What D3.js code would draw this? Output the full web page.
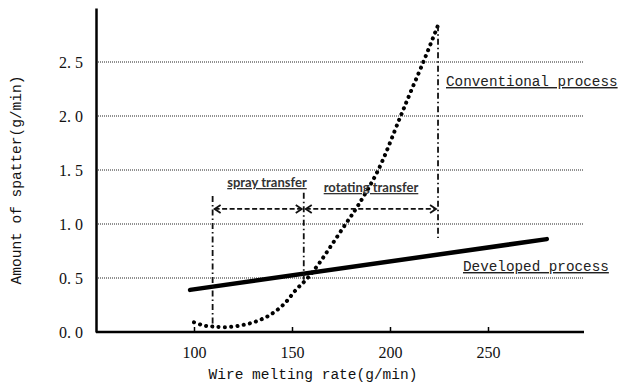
<!DOCTYPE html>
<html>
<head>
<meta charset="utf-8">
<script src="https://cdn.jsdelivr.net/npm/d3@7"></script>
<style>
  body { margin: 0; background: #fff; }
  svg { display: block; }
</style>
</head>
<body>
<svg></svg>
<script>
// values
const xTicks = [100, 150, 200, 250];
const yTicks = [0, 0.5, 1.0, 1.5, 2.0, 2.5];

const developedX = [98, 280];
const developedY = [0.39, 0.86];

const conventionalX = [100, 105, 110, 117, 125, 132, 139, 146, 152, 158, 164, 170, 177, 184, 194, 205, 210, 217, 224.5];
const conventionalY = [0.09, 0.06, 0.05, 0.045, 0.065, 0.1, 0.16, 0.26, 0.39, 0.5, 0.64, 0.8, 0.99, 1.18, 1.5, 1.98, 2.2, 2.5, 2.84];

// transfer boundaries: x, top, bottom
const boundX = [109.5, 156, 224.5];
const boundTop = [1.26, 1.29, 2.84];
const boundBottom = [0.04, 0.44, 0.87];

const arrowY = 1.14;
const regionNames = ['spray transfer', 'rotating transfer'];

const W = 619, H = 383;
const mono = "'Liberation Mono', 'DejaVu Sans Mono', monospace";
const serif = "'Liberation Serif', 'DejaVu Serif', serif";

const svg = d3.select('svg')
    .attr('width', W)
    .attr('height', H);

//--------------SCALES---------------------------------------
const x = d3.scaleLinear().domain([50, 300]).range([96, 586]);
const y = d3.scaleLinear().domain([0, 3]).range([332, 8]);

//--------------GRID----------------------------------------
svg.append('g')
  .selectAll('line')
  .data(yTicks.filter(d => d > 0))
  .join('line')
    .attr('x1', x(50))
    .attr('x2', 584)
    .attr('y1', d => y(d))
    .attr('y2', d => y(d))
    .attr('stroke', '#222')
    .attr('stroke-width', 1)
    .attr('stroke-dasharray', '1,1');

//--------------AXES----------------------------------------
const xAxis = d3.axisBottom(x)
    .tickValues(xTicks)
    .tickSize(-5)
    .tickPadding(15);

const axisX = svg.append('g')
    .attr('transform', 'translate(0,' + y(0) + ')')
    .call(xAxis);
axisX.select('.domain')
    .attr('d', 'M' + x(50) + ',0H584')
    .attr('stroke-width', 2.5);
axisX.selectAll('.tick line').attr('stroke-width', 1.5);
axisX.selectAll('.tick text')
    .attr('font-family', serif)
    .attr('font-size', 16)
    .attr('fill', '#111');

const yAxis = d3.axisLeft(y)
    .tickValues(yTicks)
    .tickSize(0)
    .tickPadding(13)
    .tickFormat(d => d3.format('.1f')(d).replace('.', '. '));

const axisY = svg.append('g')
    .attr('transform', 'translate(' + x(50) + ',0)')
    .call(yAxis);
axisY.select('.domain').attr('stroke-width', 2.5);
axisY.selectAll('.tick text')
    .attr('font-family', serif)
    .attr('font-size', 16)
    .attr('fill', '#111')
    .style('white-space', 'pre');

svg.append('text')
    .attr('x', 313)
    .attr('y', 379)
    .attr('text-anchor', 'middle')
    .attr('font-family', mono)
    .attr('font-size', 14.5)
    .attr('fill', '#111')
    .text('Wire melting rate(g/min)');

svg.append('text')
    .attr('transform', 'translate(21,180) rotate(-90)')
    .attr('text-anchor', 'middle')
    .attr('font-family', mono)
    .attr('font-size', 14.5)
    .attr('fill', '#111')
    .text('Amount of spatter(g/min)');

//-------------LINES----------------------------------------------
const line = d3.line()
    .x(d => x(d[0]))
    .y(d => y(d[1]));

svg.append('path')
    .datum(d3.zip(developedX, developedY))
    .attr('fill', 'none')
    .attr('stroke', '#000')
    .attr('stroke-width', 4.5)
    .attr('stroke-linecap', 'round')
    .attr('d', line);

svg.append('path')
    .datum(d3.zip(conventionalX, conventionalY))
    .attr('fill', 'none')
    .attr('stroke', '#000')
    .attr('stroke-width', 4)
    .attr('stroke-linecap', 'round')
    .attr('stroke-dasharray', '0.1,6.2')
    .attr('d', line.curve(d3.curveCatmullRom));

//-------------BOUNDARIES----------------------------------------
svg.append('g')
  .selectAll('line')
  .data(boundX)
  .join('line')
    .attr('x1', d => x(d))
    .attr('x2', d => x(d))
    .attr('y1', (d, i) => y(boundTop[i]))
    .attr('y2', (d, i) => y(boundBottom[i]))
    .attr('stroke', '#111')
    .attr('stroke-width', 1.8)
    .attr('stroke-dasharray', '6,3,1.5,3');

const defs = svg.append('defs');
['start', 'end'].forEach(k => {
  defs.append('marker')
      .attr('id', 'head-' + k)
      .attr('viewBox', '-8 -6 10 12')
      .attr('markerWidth', 10)
      .attr('markerHeight', 12)
      .attr('markerUnits', 'userSpaceOnUse')
      .attr('orient', k === 'start' ? 'auto-start-reverse' : 'auto')
    .append('path')
      .attr('d', 'M-6,-4L0,0L-6,4')
      .attr('fill', 'none')
      .attr('stroke', '#111')
      .attr('stroke-width', 1.8);
});

const spans = d3.pairs(boundX);
svg.append('g')
  .selectAll('line')
  .data(spans)
  .join('line')
    .attr('x1', d => x(d[0]) + 2)
    .attr('x2', d => x(d[1]) - 2)
    .attr('y1', y(arrowY))
    .attr('y2', y(arrowY))
    .attr('stroke', '#111')
    .attr('stroke-width', 1.8)
    .attr('stroke-dasharray', '5,2.5')
    .attr('marker-start', 'url(#head-start)')
    .attr('marker-end', 'url(#head-end)');

svg.append('g')
  .selectAll('text')
  .data(spans)
  .join('text')
    .attr('x', (d, i) => i === 0 ? 267 : 371)
    .attr('y', (d, i) => i === 0 ? 187 : 192)
    .attr('text-anchor', 'middle')
    .attr('font-family', 'Lato, sans-serif')
    .attr('font-weight', 'bold')
    .attr('font-size', 13)
    .attr('fill', '#333')
    .attr('text-decoration', 'underline')
    .text((d, i) => regionNames[i]);

//-------------SERIES LABELS----------------------------------------
svg.append('text')
    .attr('x', 446)
    .attr('y', 86)
    .attr('font-family', mono)
    .attr('font-size', 14.3)
    .attr('fill', '#222')
    .attr('text-decoration', 'underline')
    .text('Conventional process');

svg.append('text')
    .attr('x', 463)
    .attr('y', 271)
    .attr('font-family', mono)
    .attr('font-size', 14.3)
    .attr('fill', '#222')
    .attr('text-decoration', 'underline')
    .text('Developed process');
</script>
</body>
</html>
